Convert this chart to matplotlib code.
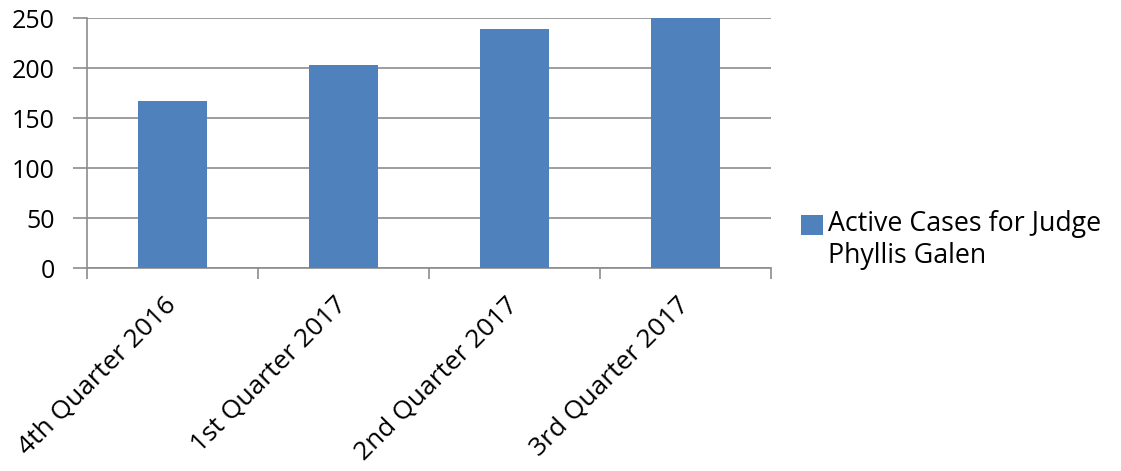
import matplotlib
matplotlib.use("Agg")
import matplotlib.pyplot as plt
from matplotlib.patches import Rectangle
from matplotlib.legend_handler import HandlerPatch, update_from_first_child
from matplotlib.container import BarContainer
import numpy as np

categories = ["4th Quarter 2016", "1st Quarter 2017", "2nd Quarter 2017", "3rd Quarter 2017"]
values = [167, 203, 239, 250]
series_name = "Active Cases for Judge\nPhyllis Galen"
yticks = [0, 50, 100, 150, 200, 250]

plt.rcParams['font.family'] = ['Open Sans', 'DejaVu Sans']

fig = plt.figure(figsize=(11.21, 4.71), dpi=100)
ax = fig.add_axes([87/1121, 1-268/471, (771-87)/1121, 250/471])

x = np.arange(len(categories))
bars = ax.bar(x, values, width=0.4, color="#4F81BD", label=series_name, zorder=3)

gray = "#8c8c8c"
ax.set_ylim(0, 250)
ax.set_xlim(-0.5, len(categories)-0.5)
ax.set_yticks(yticks)
ax.set_yticklabels([str(v) for v in yticks], fontsize=18)
ax.yaxis.grid(True, color=gray, linewidth=1.2, zorder=0)
ax.tick_params(axis='y', length=10, width=1.2, color=gray, pad=13)

ax.set_xticks(x)
ax.set_xticklabels(categories, rotation=45, ha='right', va='center', rotation_mode='anchor', fontsize=19)
ax.tick_params(axis='x', which='major', length=0, pad=24)
ax.set_xticks(np.arange(-0.5, len(categories), 1.0), minor=True)
ax.tick_params(axis='x', which='minor', length=8, width=1.2, color=gray)

for s in ['top', 'right']:
    ax.spines[s].set_visible(False)
for s in ['left', 'bottom']:
    ax.spines[s].set_color(gray)
    ax.spines[s].set_linewidth(1.2)

def top_square(legend, orig_handle, xdescent, ydescent, width, height, fontsize):
    shift = 0.6 * fontsize
    return Rectangle((-xdescent, -ydescent + shift), width, height)

leg = fig.legend(loc='center left', bbox_to_anchor=(777/1121, 1-240/471), frameon=False,
                 fontsize=19.3, handlelength=0.8, handleheight=0.8, handletextpad=0.2,
                 handler_map={BarContainer: HandlerPatch(patch_func=top_square,
                                                         update_func=update_from_first_child)})

fig.savefig("out.png", dpi=100)
